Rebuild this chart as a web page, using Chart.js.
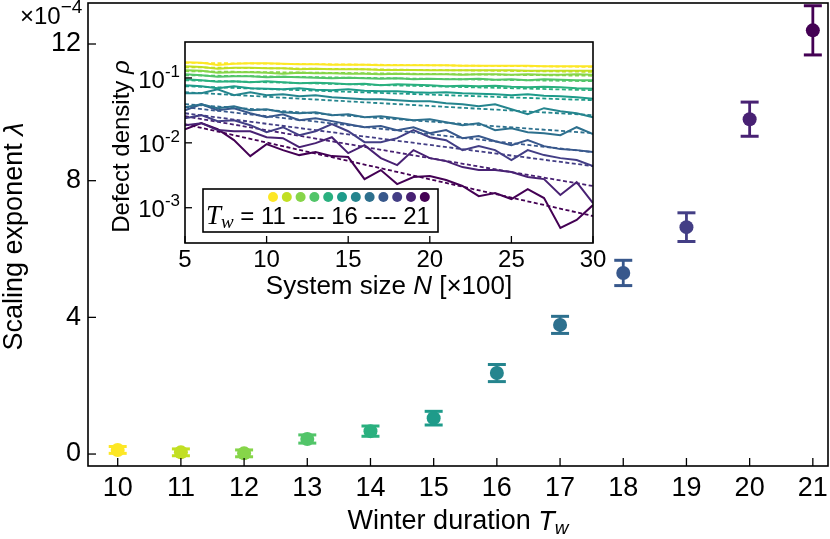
<!DOCTYPE html>
<html><head><meta charset="utf-8">
<script src="https://cdn.jsdelivr.net/npm/chart.js@4.4.1/dist/chart.umd.min.js"></script>
<style>
html,body{margin:0;padding:0;background:#fff;}
#wrap{position:relative;width:830px;height:539px;overflow:hidden;}
#main{position:absolute;left:0;top:0;}
#inset{position:absolute;left:100px;top:30px;}
</style></head><body>
<div id="wrap"><canvas id="main" width="830" height="539"></canvas><canvas id="inset" width="510" height="270"></canvas></div>
<script>
// ---------- main panel data ----------
const winterDuration = [10, 11, 12, 13, 14, 15, 16, 17, 18, 19, 20, 21];
const scalingExponent = [0.12, 0.05, 0.02, 0.44, 0.67, 1.05, 2.37, 3.78, 5.30, 6.64, 9.80, 12.40]; // ×10^-4
const scalingError    = [0.10, 0.10, 0.10, 0.12, 0.15, 0.20, 0.25, 0.25, 0.37, 0.42, 0.50, 0.72]; // ×10^-4
const mainXTicks = [10, 11, 12, 13, 14, 15, 16, 17, 18, 19, 20, 21];
const mainYTicks = [0, 4, 8, 12];
const twColors = ['#fde725','#c2df23','#86d549','#52c569','#2ab07f','#1e9b8a','#25858e','#2d708e','#38588c','#433e85','#482173','#440154'];

// ---------- inset data ----------
const systemSize = [5,6,7,8,9,10,11,12,13,14,15,16,17,18,19,20,21,22,23,24,25,26,27,28,29,30]; // ×100
const rho10 = [.174,.171,.159,.165,.168,.168,.165,.162,.162,.159,.159,.159,.157,.157,.157,.157,.157,.154,.154,.154,.154,.154,.151,.151,.151,.151];
const rho11 = [.151,.148,.138,.143,.143,.141,.141,.136,.138,.136,.136,.136,.133,.133,.133,.131,.131,.131,.131,.131,.131,.129,.129,.129,.129,.129];
const rho12 = [.131,.129,.120,.122,.122,.120,.116,.120,.118,.118,.116,.116,.114,.116,.114,.114,.114,.112,.114,.114,.112,.114,.112,.112,.114,.112];
const rho13 = [.114,.110,.104,.106,.106,.1025,.104,.1025,.101,.0989,.101,.0989,.0972,.0989,.0955,.0972,.0955,.0955,.0972,.0938,.0955,.0922,.0955,.0938,.0922,.0922];
const rho14 = [.0955,.0922,.0875,.0890,.0859,.0890,.0859,.0829,.0844,.0829,.0800,.0815,.0772,.0800,.0786,.0772,.0745,.0758,.0745,.0758,.0732,.0719,.0732,.0719,.0694,.0682];
const rho15 = [.0772,.0745,.0694,.0745,.0694,.0682,.0670,.0694,.0658,.0647,.0670,.0636,.0624,.0624,.0603,.0592,.0603,.0581,.0571,.0561,.0542,.0561,.0532,.0523,.0505,.0478];
const rho16 = [.0581,.0581,.0670,.0542,.0603,.0542,.0561,.0523,.0542,.0505,.0487,.0470,.0470,.0454,.0438,.0438,.0408,.0394,.0367,.0394,.0330,.0276,.0342,.0307,.0286,.0248];
const rho17 = [.0354,.0394,.0342,.0367,.0318,.0330,.0297,.0286,.0297,.0267,.0276,.0248,.0257,.0240,.0223,.0231,.0208,.0187,.0201,.0157,.0168,.0146,.0141,.0131,.0174,.0136];
const rho18 = [.0318,.0394,.0318,.0342,.0286,.0248,.0276,.0223,.0240,.0216,.0194,.0174,.0181,.0157,.0174,.0141,.0157,.0118,.0127,.0106,.00922,.0110,.00890,.00800,.00772,.00719];
const rho19 = [.0240,.0267,.0216,.0223,.0187,.0146,.0174,.0131,.0151,.0194,.0151,.01025,.01025,.0118,.0157,.0122,.0110,.00772,.00890,.00772,.00542,.00772,.00647,.00581,.00542,.00438];
const rho20 = [.0187,.0201,.0157,.0151,.0151,.0122,.0118,.00859,.00989,.0122,.00694,.00922,.00581,.00454,.00772,.00581,.00523,.00423,.00380,.00380,.00354,.00297,.00276,.00157,.00248,.00118];
const rho21 = [.0162,.0201,.0162,.0110,.00624,.00955,.00772,.00647,.00719,.00624,.00603,.00276,.00380,.00231,.00297,.00307,.00267,.00216,.00151,.00168,.00136,.00194,.00141,.000487,.000647,.00110];
const fitAtN5  = [.171,.146,.127,.110,.0922,.0745,.0603,.0394,.0354,.0286,.0257,.0194];
const fitAtN30 = [.148,.124,.108,.0890,.0647,.0454,.0267,.0141,.00719,.00438,.00216,.000745];
const fitEnds = [5, 30];
const insetXTicks = [5, 10, 15, 20, 25, 30];
const insetYTicks = [1e-3, 1e-2, 1e-1];
const insetYTickExp = ['-3', '-2', '-1'];
const legendTw = ['11', '16', '21'];

const SANS = "'Liberation Sans', Arial, Helvetica, sans-serif";
const SERIF = "'Liberation Serif', 'Times New Roman', serif";
const f = (size, style) => (style ? style + ' ' : '') + size + 'px ' + SANS;
const fs = (size) => 'italic ' + size + 'px ' + SERIF;

function drawRuns(ctx, runs, x, y, align) {
  let total = 0;
  runs.forEach(r => { ctx.font = r.font; r.w = ctx.measureText(r.text).width; total += r.w; });
  let cx = align === 'center' ? x - total / 2 : (align === 'right' ? x - total : x);
  ctx.textAlign = 'left';
  ctx.textBaseline = 'middle';
  runs.forEach(r => { ctx.font = r.font; ctx.fillText(r.text, cx, y + (r.dy || 0)); cx += r.w; });
  return total;
}
function zeroPad(s) { s.paddingTop = 0; s.paddingBottom = 0; s.paddingLeft = 0; s.paddingRight = 0; }

// ---------- main chart ----------
const mainDatasets = [];
winterDuration.forEach((t, i) => {
  mainDatasets.push({
    type: 'line',
    data: [{x: t, y: scalingExponent[i] - scalingError[i]}, {x: t, y: scalingExponent[i] + scalingError[i]}],
    borderColor: twColors[i], borderWidth: 2.8,
    pointStyle: 'line', pointRadius: 9, pointHoverRadius: 9,
    pointBorderColor: twColors[i], pointBorderWidth: 3,
    showLine: true, order: 2
  });
});
mainDatasets.push({
  type: 'scatter',
  data: winterDuration.map((t, i) => ({x: t, y: scalingExponent[i]})),
  backgroundColor: twColors, borderWidth: 0,
  pointRadius: 7, pointHoverRadius: 7, order: 1
});

const mainDecor = {
  id: 'mainDecor',
  afterDraw(chart) {
    const ctx = chart.ctx, ca = chart.chartArea;
    ctx.save();
    ctx.strokeStyle = '#000'; ctx.lineWidth = 1.6;
    ctx.strokeRect(ca.left, ca.top, ca.right - ca.left, ca.bottom - ca.top);
    ctx.lineWidth = 1.3;
    const sx = chart.scales.x, sy = chart.scales.y;
    sx.ticks.forEach(t => { const p = sx.getPixelForValue(t.value); ctx.beginPath(); ctx.moveTo(p, ca.bottom); ctx.lineTo(p, ca.bottom - 8); ctx.stroke(); });
    sy.ticks.forEach(t => { const p = sy.getPixelForValue(t.value); ctx.beginPath(); ctx.moveTo(ca.left, p); ctx.lineTo(ca.left + 8, p); ctx.stroke(); });
    ctx.fillStyle = '#000';
    // offset text
    drawRuns(ctx, [{text: '×10', font: f(24)}, {text: '−4', font: f(19), dy: -9}], 20, 17, 'left');
    // x title
    drawRuns(ctx, [{text: 'Winter duration ', font: f(27)}, {text: 'T', font: f(27, 'italic')}, {text: 'w', font: f(19, 'italic'), dy: 7}], (ca.left + ca.right) / 2, 522, 'center');
    // y title
    ctx.save();
    ctx.translate(15, (ca.top + ca.bottom) / 2 + 2);
    ctx.rotate(-Math.PI / 2);
    drawRuns(ctx, [{text: 'Scaling exponent ', font: f(27)}, {text: 'λ', font: f(27, 'italic')}], 0, 0, 'center');
    ctx.restore();
    ctx.restore();
  }
};

new Chart(document.getElementById('main'), {
  type: 'scatter',
  data: {datasets: mainDatasets},
  options: {
    responsive: false, animation: false, devicePixelRatio: 1,
    layout: {autoPadding: false, padding: {top: 3, right: 2, left: 0, bottom: 0}},
    plugins: {legend: {display: false}, tooltip: {enabled: false}},
    scales: {
      x: {
        type: 'linear', min: 9.53, max: 21.24, offset: false,
        afterBuildTicks: s => { s.ticks = mainXTicks.map(v => ({value: v})); },
        afterFit: s => { s.height = 73; zeroPad(s); },
        grid: {display: false, drawTicks: false}, border: {display: false},
        ticks: {font: {family: SANS, size: 27}, color: '#000', padding: 6, maxRotation: 0, callback: v => String(v)}
      },
      y: {
        type: 'linear', min: -0.35, max: 13.2,
        afterBuildTicks: s => { s.ticks = mainYTicks.map(v => ({value: v})); },
        afterFit: s => { s.width = 88; zeroPad(s); },
        grid: {display: false, drawTicks: false}, border: {display: false},
        ticks: {font: {family: SANS, size: 27}, color: '#000', padding: 7, callback: v => String(v)}
      }
    }
  },
  plugins: [mainDecor]
});

// ---------- inset chart ----------
const rhoLines = [rho10, rho11, rho12, rho13, rho14, rho15, rho16, rho17, rho18, rho19, rho20, rho21];
const insetDatasets = [];
rhoLines.forEach((arr, i) => {
  insetDatasets.push({
    type: 'line',
    data: systemSize.map((n, k) => ({x: n, y: arr[k]})),
    borderColor: twColors[i], borderWidth: 2, pointRadius: 0, tension: 0
  });
  insetDatasets.push({
    type: 'line',
    data: [{x: fitEnds[0], y: fitAtN5[i]}, {x: fitEnds[1], y: fitAtN30[i]}],
    borderColor: twColors[i], borderWidth: 1.8, borderDash: [4, 2.5], pointRadius: 0
  });
});

const insetBg = {
  id: 'insetBg',
  beforeDatasetsDraw(chart) {
    const ctx = chart.ctx, ca = chart.chartArea;
    ctx.save(); ctx.fillStyle = '#fff';
    ctx.fillRect(ca.left, ca.top, ca.right - ca.left, ca.bottom - ca.top);
    ctx.restore();
  }
};

const insetDecor = {
  id: 'insetDecor',
  afterDraw(chart) {
    const ctx = chart.ctx, ca = chart.chartArea;
    const sx = chart.scales.x, sy = chart.scales.y;
    ctx.save();
    ctx.strokeStyle = '#000'; ctx.lineWidth = 1.6;
    ctx.strokeRect(ca.left, ca.top, ca.right - ca.left, ca.bottom - ca.top);
    ctx.lineWidth = 1.3;
    sx.ticks.forEach(t => { const p = sx.getPixelForValue(t.value); ctx.beginPath(); ctx.moveTo(p, ca.bottom); ctx.lineTo(p, ca.bottom - 7); ctx.stroke(); });
    ctx.fillStyle = '#000';
    insetYTicks.forEach((v, i) => {
      const p = sy.getPixelForValue(v);
      ctx.beginPath(); ctx.moveTo(ca.left, p); ctx.lineTo(ca.left + 7, p); ctx.stroke();
      ctx.font = f(17);
      const ew = ctx.measureText(insetYTickExp[i]).width;
      ctx.font = f(24);
      const bw = ctx.measureText('10').width;
      drawRuns(ctx, [{text: '10', font: f(24)}, {text: insetYTickExp[i], font: f(17), dy: -9}], ca.left - 5 - ew - bw, p + 3, 'left');
    });
    // titles
    drawRuns(ctx, [{text: 'System size ', font: f(26)}, {text: 'N', font: f(26, 'italic')}, {text: ' [×100]', font: f(26)}], (ca.left + ca.right) / 2, 257, 'center');
    ctx.save();
    ctx.translate(22, (ca.top + ca.bottom) / 2 + 4);
    ctx.rotate(-Math.PI / 2);
    drawRuns(ctx, [{text: 'Defect density ', font: f(24)}, {text: 'ρ', font: f(24, 'italic')}], 0, 0, 'center');
    ctx.restore();
    // legend box
    const bx = 103, by = 159, bw2 = 235, bh = 43;
    ctx.fillStyle = '#fff'; ctx.fillRect(bx, by, bw2, bh);
    ctx.strokeStyle = '#000'; ctx.lineWidth = 1.6; ctx.strokeRect(bx, by, bw2, bh);
    twColors.forEach((c, i) => {
      ctx.beginPath(); ctx.fillStyle = c;
      ctx.arc(173 + i * 13.8, 167, 5, 0, Math.PI * 2); ctx.fill();
    });
    ctx.fillStyle = '#000';
    drawRuns(ctx, [
      {text: 'T', font: fs(27)}, {text: 'w', font: fs(19), dy: 6},
      {text: ' = ' + legendTw[0] + ' ---- ' + legendTw[1] + ' ---- ' + legendTw[2], font: f(24)}
    ], 106, 187, 'left');
    ctx.restore();
  }
};

new Chart(document.getElementById('inset'), {
  type: 'scatter',
  data: {datasets: insetDatasets},
  options: {
    responsive: false, animation: false, devicePixelRatio: 1,
    layout: {autoPadding: false, padding: {top: 12, right: 17, left: 0, bottom: 0}},
    plugins: {legend: {display: false}, tooltip: {enabled: false}},
    scales: {
      x: {
        type: 'linear', min: 5, max: 30,
        afterBuildTicks: s => { s.ticks = insetXTicks.map(v => ({value: v})); },
        afterFit: s => { s.height = 57; zeroPad(s); },
        grid: {display: false, drawTicks: false}, border: {display: false},
        ticks: {font: {family: SANS, size: 24}, color: '#000', padding: 3, maxRotation: 0, callback: v => String(v)}
      },
      y: {
        type: 'logarithmic', min: 2.86e-4, max: 0.358,
        afterBuildTicks: s => { s.ticks = insetYTicks.map(v => ({value: v})); },
        afterFit: s => { s.width = 85; zeroPad(s); },
        grid: {display: false, drawTicks: false}, border: {display: false},
        ticks: {display: false}
      }
    }
  },
  plugins: [insetBg, insetDecor]
});
</script>
</body></html>
